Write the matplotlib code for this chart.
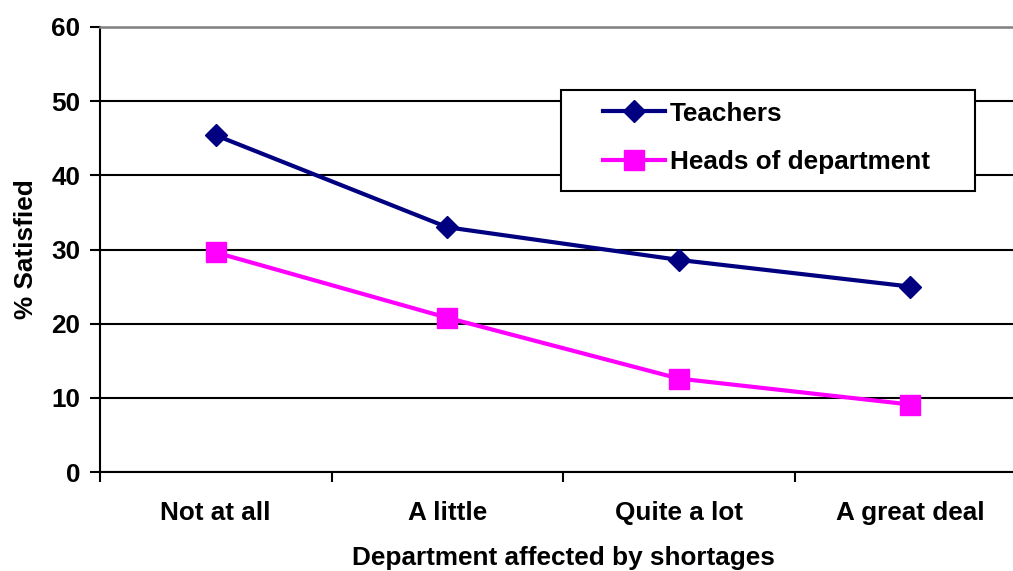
import matplotlib
matplotlib.use("Agg")
import matplotlib.pyplot as plt
from matplotlib.ticker import FixedLocator
from matplotlib.patches import Rectangle

categories = ["Not at all", "A little", "Quite a lot", "A great deal"]
teachers = [45.4, 33.0, 28.6, 25.0]
heads = [29.6, 20.8, 12.6, 9.1]
yticks = [0, 10, 20, 30, 40, 50, 60]

plt.rcParams['font.family'] = ['Liberation Sans', 'DejaVu Sans']
plt.rcParams['font.weight'] = 'bold'
FS = 18.8

fig = plt.figure(figsize=(10.13, 5.71), dpi=100)
W, H = 1013, 571
ax = fig.add_axes([100 / W, 1 - 472 / H, 926 / W, 445 / H])

x = list(range(len(categories)))
ax.plot(x, teachers, color='#000080', lw=3, marker='D', ms=11.5, label='Teachers', zorder=3)
ax.plot(x, heads, color='#FF00FF', lw=3, marker='s', ms=15, label='Heads of department', zorder=3)

ax.set_xlim(-0.5, len(categories) - 0.5)
ax.set_ylim(0, 60)
ax.set_yticks(yticks)
ax.set_xticks(x)
ax.set_xticklabels(categories, fontsize=FS, fontweight='bold')
ax.xaxis.set_minor_locator(FixedLocator([i - 0.5 for i in range(len(categories) + 1)]))
ax.tick_params(axis='x', which='major', length=0, pad=21)
ax.tick_params(axis='x', which='minor', length=7, width=1.5, direction='out', color='black')
ax.tick_params(axis='y', length=7, width=1.5, direction='out', pad=7, labelsize=FS)
for t in ax.get_yticklabels():
    t.set_fontweight('bold')

ax.set_axisbelow(True)
ax.yaxis.grid(True, color='black', lw=1.5)
for s in ['left', 'bottom']:
    ax.spines[s].set_color('black')
    ax.spines[s].set_linewidth(1.5)
ax.spines['top'].set_color('#808080')
ax.spines['top'].set_linewidth(1.8)
ax.spines['right'].set_visible(False)

ax.set_ylabel('% Satisfied', fontsize=FS, fontweight='bold', labelpad=10)
ax.set_xlabel('Department affected by shortages', fontsize=FS, fontweight='bold', labelpad=15)

# legend frame
ax.add_patch(Rectangle((0.498, 0.631), 0.447, 0.227, transform=ax.transAxes,
                       facecolor='white', edgecolor='black', lw=1.5, zorder=4))
leg = ax.legend(loc='center left', bbox_to_anchor=(0.543, 0.7506), fontsize=FS,
                frameon=False, handlelength=2.37,
                handletextpad=0.2, labelspacing=0.95, borderpad=0, borderaxespad=0)
leg.set_zorder(5)
for t in leg.get_texts():
    t.set_fontweight('bold')

fig.savefig('out.png', dpi=100, facecolor='white')
